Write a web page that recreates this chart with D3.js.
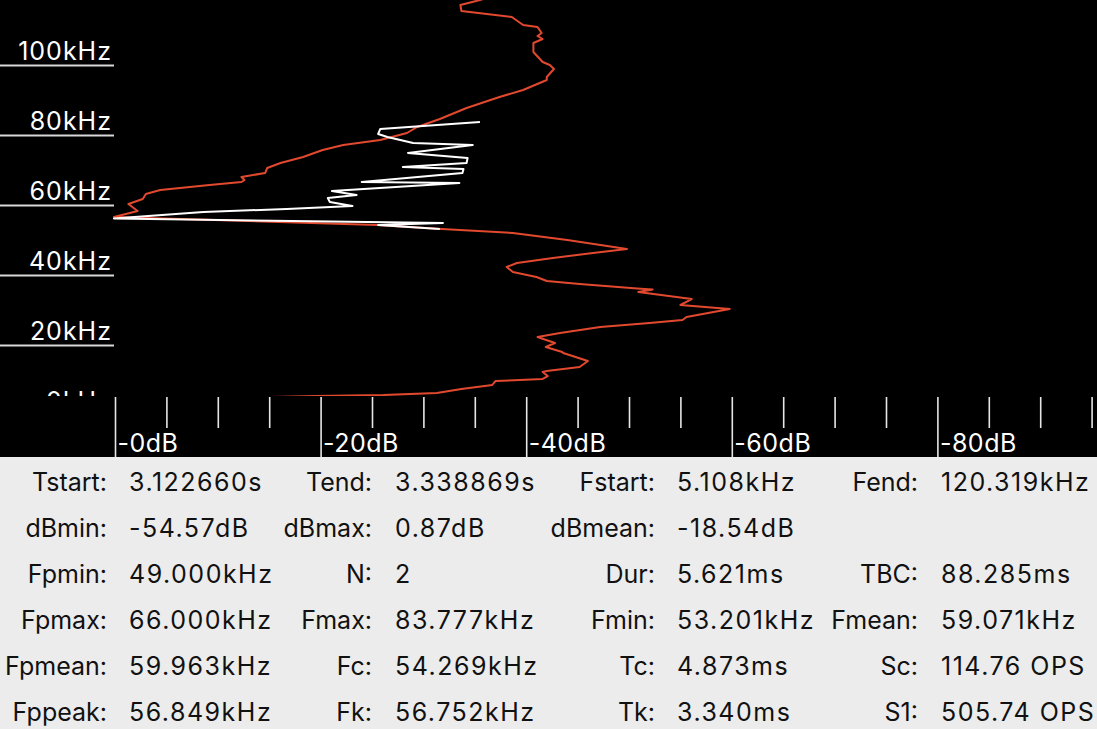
<!DOCTYPE html>
<html>
<head>
<meta charset="utf-8">
<script src="https://cdn.jsdelivr.net/npm/d3@7"></script>
<style>
  html, body { margin: 0; padding: 0; background: #ececec; }
  svg { display: block; }
  text { font-family: "Inter", "Liberation Sans", sans-serif; }
</style>
</head>
<body>
<svg id="chart" width="1097" height="729"></svg>
<script>
// ---- data ----
const redFreq = [5.14, 5.43, 5.71, 6.29, 7.43, 8.57, 9.71, 10.29, 11.14, 12.29, 12.57, 13.71, 15.43, 17.71, 18.0, 19.43, 20.57, 22.29, 23.43, 25.14, 26.29, 27.14, 28.0, 30.29, 31.43, 33.14, 35.14, 35.86, 36.14, 37.43, 38.29, 39.43, 40.86, 42.29, 43.43, 44.86, 46.29, 47.43, 50.0, 52.0, 53.14, 54.29, 56.57, 58.29, 60.29, 61.71, 63.14, 64.29, 65.71, 66.57, 67.14, 68.0, 69.14, 70.57, 72.0, 73.71, 75.71, 77.14, 78.57, 80.57, 82.29, 84.57, 87.71, 90.86, 92.86, 95.71, 96.57, 98.86, 100.0, 100.86, 103.71, 106.29, 107.43, 108.29, 109.14, 110.86, 111.43, 113.71, 115.43, 117.14, 118.57, 120.32];
const redDb = [-15.1, -19.6, -26.1, -31.3, -33.7, -36.7, -37.0, -41.6, -42.1, -41.6, -42.0, -45.2, -46.0, -43.6, -43.5, -41.9, -42.8, -41.1, -43.3, -47.2, -52.0, -55.2, -55.6, -59.8, -55.0, -56.1, -50.9, -52.3, -50.8, -45.2, -42.0, -41.0, -38.7, -38.1, -39.1, -42.6, -46.5, -49.8, -44.0, -38.7, -31.8, -25.5, 0.1, -2.2, -1.3, -2.7, -3.0, -4.4, -9.2, -12.3, -12.6, -12.3, -14.6, -14.8, -16.1, -18.3, -20.2, -22.2, -25.8, -28.4, -29.4, -31.6, -34.2, -37.4, -39.7, -42.0, -42.0, -42.7, -42.3, -41.6, -40.7, -40.7, -41.6, -41.1, -41.5, -41.1, -39.7, -38.6, -33.7, -33.6, -35.5, -37.4];

const whiteFreq = [83.71, 81.71, 80.29, 79.43, 77.71, 77.14, 74.86, 73.43, 72.0, 70.86, 70.29, 69.14, 66.57, 66.29, 64.0, 62.86, 62.0, 60.86, 59.71, 58.86, 58.0, 56.14, 54.86, 54.29, 53.14];
const whiteDb = [-35.5, -25.8, -25.6, -26.5, -29.0, -34.8, -28.5, -34.3, -34.2, -28.0, -33.9, -33.8, -24.0, -33.5, -21.1, -23.5, -20.7, -20.9, -23.1, -16.7, -8.6, 0.1, -31.9, -25.6, -31.6];

const freqTicks = [0, 20, 40, 60, 80, 100];
const dbTicks = [0, -5, -10, -15, -20, -25, -30, -35, -40, -45, -50, -55, -60, -65, -70, -75, -80, -85, -90, -95];
const dbLabelTicks = [0, -20, -40, -60, -80];

const statLabels = [
  ["Tstart:", "Tend:", "Fstart:", "Fend:"],
  ["dBmin:", "dBmax:", "dBmean:", ""],
  ["Fpmin:", "N:", "Dur:", "TBC:"],
  ["Fpmax:", "Fmax:", "Fmin:", "Fmean:"],
  ["Fpmean:", "Fc:", "Tc:", "Sc:"],
  ["Fppeak:", "Fk:", "Tk:", "S1:"]
];
const statValues = [
  ["3.122660s", "3.338869s", "5.108kHz", "120.319kHz"],
  ["-54.57dB", "0.87dB", "-18.54dB", ""],
  ["49.000kHz", "2", "5.621ms", "88.285ms"],
  ["66.000kHz", "83.777kHz", "53.201kHz", "59.071kHz"],
  ["59.963kHz", "54.269kHz", "4.873ms", "114.76 OPS"],
  ["56.849kHz", "56.752kHz", "3.340ms", "505.74 OPS"]
];

// ---- layout ----
const W = 1097, H = 729;
const plotTop = 0, plotBottom = 397, axisBottom = 457;
const FS = 25;
const svg = d3.select("#chart");

svg.append("rect").attr("x", 0).attr("y", 0).attr("width", W).attr("height", axisBottom).attr("fill", "#000");
svg.append("rect").attr("x", 0).attr("y", axisBottom).attr("width", W).attr("height", H - axisBottom).attr("fill", "#ececec");

const x = d3.scaleLinear().domain([0, -100]).range([115, 1143]);
const y = d3.scaleLinear().domain([0, 120]).range([415, -5]);

const defs = svg.append("defs");
defs.append("clipPath").attr("id", "plotClip")
  .append("rect").attr("x", 0).attr("y", plotTop).attr("width", W).attr("height", plotBottom - plotTop - 1);

// y axis (frequency) with lines extending to the left edge
const yAxisG = svg.append("g")
  .attr("clip-path", "url(#plotClip)")
  .append("g")
  .attr("transform", "translate(114,0)")
  .call(d3.axisLeft(y).tickValues(freqTicks).tickSize(114).tickFormat(d => d + "kHz"));
yAxisG.select(".domain").remove();
yAxisG.selectAll(".tick line").attr("stroke", "#d8d8d8").attr("stroke-width", 2);
yAxisG.selectAll(".tick text")
  .attr("x", -2).attr("dy", -6)
  .attr("fill", "#fff").attr("font-size", FS).attr("letter-spacing", 1)
  .attr("text-anchor", "end");

// x axis (dB)
const xAxisG = svg.append("g")
  .attr("transform", `translate(0,${plotBottom})`)
  .call(d3.axisBottom(x).tickValues(dbTicks).tickSize(31).tickFormat(""));
xAxisG.select(".domain").remove();
xAxisG.selectAll(".tick line")
  .attr("stroke", "#e6e6e6").attr("stroke-width", 1.6)
  .attr("y2", d => dbLabelTicks.includes(d) ? (axisBottom - plotBottom) : 31);
xAxisG.selectAll(".tick")
  .filter(d => dbLabelTicks.includes(d))
  .append("text")
  .attr("x", 2).attr("y", 55)
  .attr("fill", "#fff").attr("font-size", FS).attr("letter-spacing", 0.5)
  .attr("text-anchor", "start")
  .text(d => "-" + Math.abs(d) + "dB");

// curves
const plot = svg.append("g").attr("clip-path", "url(#plotClip)");
const line = d3.line().x(d => x(d[1])).y(d => y(d[0]));
plot.append("path")
  .datum(redFreq.map((f, i) => [f, redDb[i]]))
  .attr("d", line).attr("fill", "none")
  .attr("stroke", "#e2492f").attr("stroke-width", 2).attr("stroke-linejoin", "round");
plot.append("path")
  .datum(whiteFreq.map((f, i) => [f, whiteDb[i]]))
  .attr("d", line).attr("fill", "none")
  .attr("stroke", "#ffffff").attr("stroke-width", 2).attr("stroke-linejoin", "round");

// stats table
const labelRight = [107, 372, 655, 918];
const valueLeft = [129, 395, 677, 941];
const rowY = d3.scalePoint().domain(d3.range(statLabels.length)).range([491, 721]);
const tbl = svg.append("g");
statLabels.forEach((row, r) => {
  row.forEach((lab, c) => {
    tbl.append("text").attr("x", labelRight[c]).attr("y", rowY(r))
      .attr("text-anchor", "end").attr("font-size", FS).attr("fill", "#111").text(lab);
    tbl.append("text").attr("x", valueLeft[c]).attr("y", rowY(r))
      .attr("text-anchor", "start").attr("font-size", FS).attr("letter-spacing", 1.5)
      .attr("fill", "#111").text(statValues[r][c]);
  });
});
</script>
</body>
</html>
